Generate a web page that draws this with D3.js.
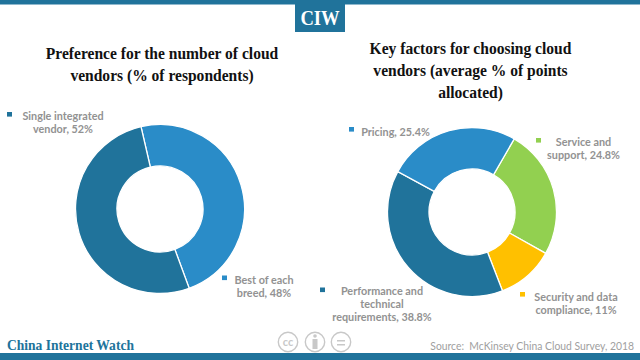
<!DOCTYPE html>
<html><head><meta charset="utf-8">
<script src="https://cdn.jsdelivr.net/npm/d3@7/dist/d3.min.js"></script>
<style>html,body{margin:0;padding:0;background:#fff}svg{display:block}</style>
</head><body><svg id="c" width="640" height="360"></svg>
<script>
const leftCategories = ["Best of each breed", "Single integrated vendor"];
const leftValues = [48, 52];
const leftColors = ["#2a8cc8", "#20739b"];
const rightCategories = ["Service and support", "Security and data compliance", "Performance and technical requirements", "Pricing"];
const rightValues = [24.8, 11, 38.8, 25.4];
const rightColors = ["#92d050", "#ffc000", "#20739b", "#2a8cc8"];

const svg = d3.select("#c");
const BRAND = "#20739b";
const SERIF = "'Liberation Serif','DejaVu Serif',serif";
const SANS = "Lato,'Open Sans',sans-serif";

function serifText(t,x,y,size,sx,anchor,fill){
  svg.append("text").attr("transform",`translate(${x},${y}) scale(${sx},1)`).attr("text-anchor",anchor)
    .attr("font-family",SERIF).attr("font-weight",700).attr("font-size",size).attr("fill",fill).text(t);
}

svg.append("rect").attr("width",640).attr("height",4.5).attr("fill",BRAND);
svg.append("rect").attr("y",353).attr("width",640).attr("height",7).attr("fill",BRAND);
svg.append("rect").attr("x",295).attr("y",0).attr("width",50).attr("height",32).attr("fill",BRAND);
serifText("CIW",320,25,20,0.93,"middle","#fff");

function title(lines,cx,y0){
  lines.forEach((t,i)=>serifText(t,cx,y0+i*22,17,0.915,"middle","#111"));
}
title(["Preference for the number of cloud","vendors (% of respondents)"],162,58.5);
title(["Key factors for choosing cloud","vendors (average % of points","allocated)"],470.5,54);

function donut(values,colors,cx,cy,ro,ri,startDeg){
  const start = startDeg*Math.PI/180;
  const pie = d3.pie().sort(null).startAngle(start).endAngle(start+2*Math.PI);
  const arc = d3.arc().outerRadius(ro).innerRadius(ri);
  svg.append("g").attr("transform",`translate(${cx},${cy})`)
    .selectAll("path").data(pie(values)).join("path")
    .attr("d",arc).attr("fill",(d,i)=>colors[i]).attr("stroke","#fff").attr("stroke-width",1.3);
}
donut(leftValues,leftColors,160,209,84.5,43,-13);
donut(rightValues,rightColors,472,212,84.5,43,30);

function label(lines,cx,y0,color,sx,sy){
  svg.append("rect").attr("x",sx).attr("y",sy).attr("width",5).attr("height",4.6).attr("fill",color);
  lines.forEach((t,i)=>svg.append("text").attr("transform",`translate(${cx},${y0+i*13}) scale(0.95,1)`).attr("text-anchor","middle")
    .attr("font-family",SANS).attr("font-weight",700).attr("font-size",11.4).attr("fill","#929292").text(t));
}
label(["Single integrated","vendor, "+leftValues[1]+"%"],63,120,leftColors[1],7,112);
label(["Best of each","breed, "+leftValues[0]+"%"],264,284,leftColors[0],222,275.5);
label(["Pricing, "+rightValues[3]+"%"],395.5,136,rightColors[3],349,127);
label(["Service and","support, "+rightValues[0]+"%"],583.5,146,rightColors[0],536,138);
label(["Security and data","compliance, "+rightValues[1]+"%"],576,301,rightColors[1],520,292);
label(["Performance and","technical","requirements, "+rightValues[2]+"%"],382,295,rightColors[2],320,287.5);

serifText("China Internet Watch",7,350,15.5,0.875,"start",BRAND);
svg.append("text").attr("transform","translate(634,350) scale(0.9,1)").attr("text-anchor","end").attr("font-family",SANS)
  .attr("font-size",11.5).attr("fill","#a0a0a0").text("Source:\u00a0 McKinsey China Cloud Survey, 2018");

const g = svg.append("g").attr("fill","none").attr("stroke","#c8c8c8").attr("stroke-width",1.4);
[288,315,341].forEach(x=>g.append("circle").attr("cx",x).attr("cy",342).attr("r",9.7));
svg.append("text").attr("x",288).attr("y",346).attr("text-anchor","middle").attr("font-family",SANS)
  .attr("font-weight",700).attr("font-size",11).attr("fill","#c8c8c8").text("cc");
svg.append("circle").attr("cx",315).attr("cy",336).attr("r",1.8).attr("fill","#c8c8c8");
svg.append("rect").attr("x",312.5).attr("y",339).attr("width",5).attr("height",10).attr("fill","#c8c8c8");
[340,344].forEach(y=>svg.append("rect").attr("x",337).attr("y",y).attr("width",8).attr("height",1.5).attr("fill","#c8c8c8"));
</script></body></html>
